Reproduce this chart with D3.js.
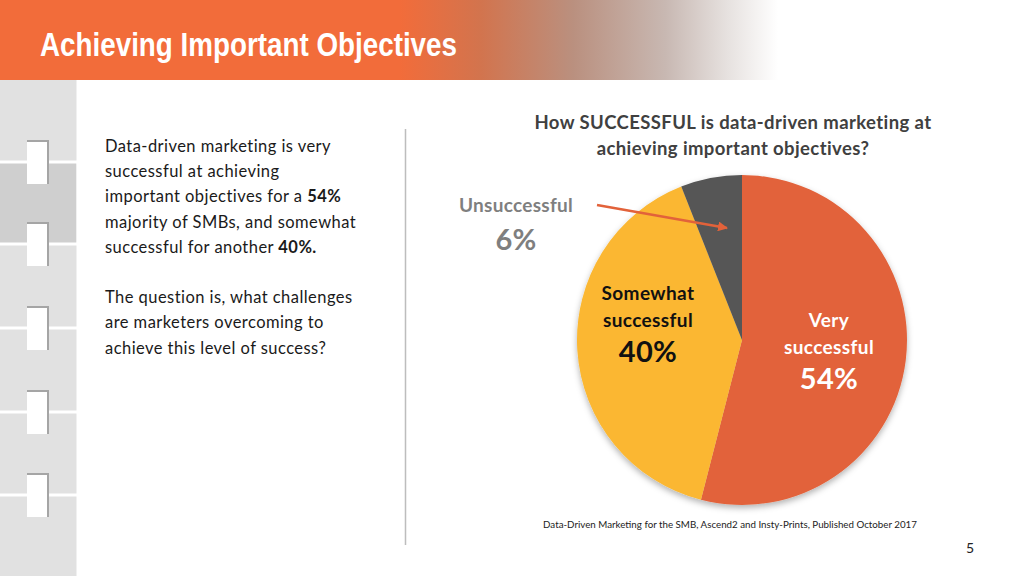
<!DOCTYPE html>
<html>
<head>
<meta charset="utf-8">
<script src="https://cdn.jsdelivr.net/npm/d3@7"></script>
<style>
  html, body { margin: 0; padding: 0; background: #fff; }
  svg { display: block; }
  text { font-family: Lato, "Open Sans", sans-serif; }
</style>
</head>
<body>
<svg id="chart" width="1024" height="576"></svg>
<script>
// ---- data ----
const categories = ["Very successful", "Somewhat successful", "Unsuccessful"];
const values = [54, 40, 6];
const colors = ["#E2623A", "#FBB731", "#565656"];
const pageTitle = "Achieving Important Objectives";
const chartTitle = ["How SUCCESSFUL is data-driven marketing at", "achieving important objectives?"];
const source = "Data-Driven Marketing for the SMB, Ascend2 and Insty-Prints, Published October 2017";

const svg = d3.select("#chart");
const defs = svg.append("defs");

// header gradient
const grad = defs.append("linearGradient").attr("id", "hdr").attr("x1", 0).attr("x2", 1).attr("y1", 0).attr("y2", 0);
[[0, "#F26C3A"], [0.39, "#F26C3A"], [0.47, "#D2744E"], [0.56, "#BA907F"], [0.65, "#C8B8B2"], [0.71, "#E6E1DF"], [0.76, "#FFFFFF"], [1, "#FFFFFF"]]
  .forEach(([o, c]) => grad.append("stop").attr("offset", o).attr("stop-color", c));

const shadow = defs.append("filter").attr("id", "shadow").attr("x", "-20%").attr("y", "-20%").attr("width", "140%").attr("height", "140%");
shadow.append("feDropShadow").attr("dx", 0).attr("dy", 3).attr("stdDeviation", 3).attr("flood-color", "#000").attr("flood-opacity", 0.3);

// header band
svg.append("rect").attr("x", 0).attr("y", 0).attr("width", 1024).attr("height", 80).attr("fill", "url(#hdr)");
svg.append("text").attr("x", 40).attr("y", 56)
  .attr("fill", "#fff").attr("font-size", 34).attr("font-weight", "bold")
  .style("font-family", "'Liberation Sans Narrow', 'Arial Narrow', 'Liberation Sans', sans-serif")
  .attr("textLength", 417).attr("lengthAdjust", "spacingAndGlyphs")
  .text(pageTitle);

// sidebar
const side = svg.append("g");
side.append("rect").attr("x", 0).attr("y", 80).attr("width", 76).attr("height", 496).attr("fill", "#E1E1E1");
side.append("rect").attr("x", 0).attr("y", 163).attr("width", 76).attr("height", 80).attr("fill", "#CFCFCF");
side.append("rect").attr("x", 76).attr("y", 80).attr("width", 1).attr("height", 496).attr("fill", "#F0F0F0");
const seps = [162, 244, 328, 412, 495];
seps.forEach(y => {
  side.append("rect").attr("x", 0).attr("y", y - 1.5).attr("width", 77).attr("height", 3).attr("fill", "#fff");
  side.append("rect").attr("x", 27).attr("y", y - 22).attr("width", 22).attr("height", 44).attr("fill", "#A5A5A5");
  side.append("rect").attr("x", 27).attr("y", y - 20).attr("width", 20).attr("height", 42).attr("fill", "#fff");
});

// divider
svg.append("line").attr("x1", 405.5).attr("x2", 405.5).attr("y1", 129).attr("y2", 545)
  .attr("stroke", "#BDBDBD").attr("stroke-width", 1.5);

// left text
const leftLines = [
  [["Data-driven marketing is very", false]],
  [["successful at achieving", false]],
  [["important objectives for a ", false], ["54%", true]],
  [["majority of SMBs, and somewhat", false]],
  [["successful for another ", false], ["40%.", true]],
  null,
  [["The question is, what challenges", false]],
  [["are marketers overcoming to", false]],
  [["achieve this level of success?", false]]
];
leftLines.forEach((line, i) => {
  if (!line) return;
  const t = svg.append("text").attr("x", 105).attr("y", 152 + i * 25.2)
    .attr("font-size", 16.5).attr("letter-spacing", 0.45).attr("fill", "#1a1a1a");
  line.forEach(([s, b]) => t.append("tspan").attr("font-weight", b ? "bold" : "normal").text(s));
});

// chart title
chartTitle.forEach((s, i) => {
  svg.append("text").attr("x", 733).attr("y", 129 + i * 26)
    .attr("text-anchor", "middle").attr("font-size", 18.5).attr("letter-spacing", 0.4).attr("font-weight", "bold")
    .attr("fill", "#404040").text(s);
});

// pie
const cx = 742, cy = 340, R = 165;
const pie = d3.pie().sort(null).value(d => d.v);
const arc = d3.arc().innerRadius(0).outerRadius(R);
const data = categories.map((c, i) => ({ c, v: values[i], col: colors[i] }));
const g = svg.append("g").attr("transform", `translate(${cx},${cy})`);
g.append("g").attr("filter", "url(#shadow)")
  .selectAll("path").data(pie(data)).join("path")
  .attr("d", arc).attr("fill", d => d.data.col);

// labels
const labels = [
  { lines: ["Very", "successful"], pct: values[0] + "%", x: 829, y: 327, color: "#fff" },
  { lines: ["Somewhat", "successful"], pct: values[1] + "%", x: 648, y: 300, color: "#111" }
];
labels.forEach(l => {
  l.lines.forEach((s, i) => {
    svg.append("text").attr("x", l.x).attr("y", l.y + i * 26.5).attr("text-anchor", "middle")
      .attr("font-size", 19).attr("letter-spacing", 0.4).attr("font-weight", "bold").attr("fill", l.color).text(s);
  });
  svg.append("text").attr("x", l.x).attr("y", l.y + 62).attr("text-anchor", "middle")
    .attr("font-size", 29).attr("letter-spacing", 0.3).attr("font-weight", "bold").attr("fill", l.color).text(l.pct);
});
svg.append("text").attr("x", 516).attr("y", 212).attr("text-anchor", "middle")
  .attr("font-size", 19).attr("letter-spacing", 0.3).attr("font-weight", "bold").attr("fill", "#7F7F7F").text(categories[2].replace(" ", ""));
svg.append("text").attr("x", 516).attr("y", 250).attr("text-anchor", "middle")
  .attr("font-size", 29).attr("letter-spacing", 0.3).attr("font-weight", "bold").attr("fill", "#7F7F7F").text(values[2] + "%");

// arrow
defs.append("marker").attr("id", "ah").attr("viewBox", "0 0 10 10").attr("refX", 9).attr("refY", 5)
  .attr("markerWidth", 4).attr("markerHeight", 4).attr("orient", "auto")
  .append("path").attr("d", "M0,0 L10,5 L0,10 z").attr("fill", "#E2623A");
svg.append("line").attr("x1", 597).attr("y1", 205).attr("x2", 727).attr("y2", 228)
  .attr("stroke", "#E2623A").attr("stroke-width", 2.5).attr("marker-end", "url(#ah)");

// source
svg.append("text").attr("x", 730).attr("y", 528).attr("text-anchor", "middle")
  .attr("font-size", 9.75).attr("fill", "#222").text(source);

// page number
svg.append("text").attr("x", 970).attr("y", 553).attr("text-anchor", "middle")
  .attr("font-size", 14).attr("fill", "#222").text("5");
</script>
</body>
</html>
